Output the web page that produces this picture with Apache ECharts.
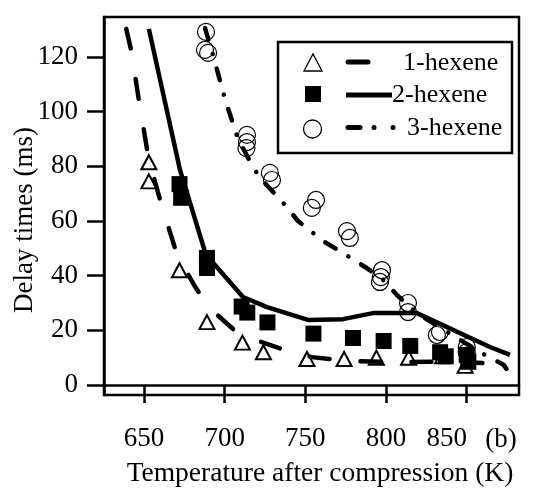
<!DOCTYPE html>
<html>
<head>
<meta charset="utf-8">
<script src="https://cdn.jsdelivr.net/npm/echarts@6/dist/echarts.min.js"></script>
<style>
html,body{margin:0;padding:0;background:#fff;}
#chart{width:535px;height:492px;}
</style>
</head>
<body>
<div id="chart"></div>
<script>
// ---- data ----
const xTicks = [650, 700, 750, 800, 850];
const yTicks = [0, 20, 40, 60, 80, 100, 120];

// 1-hexene measurements (open triangles)
const hex1Temp  = [653, 653, 672, 689, 711, 724, 751, 774, 794, 814, 835, 849];
const hex1Delay = [81.5, 74.5, 42, 23, 15.5, 12, 9.5, 9.5, 10, 10, 10.5, 7];
// 1-hexene model (dashed line)
const hex1LineT = [639, 642, 647, 653, 660.5, 670.5, 681, 690, 708, 723, 740.5, 754, 777.5, 804, 840, 873];
const hex1LineD = [130.3, 122.6, 103.5, 82.3, 66.6, 47.6, 36.6, 28.5, 19, 15.7, 12.1, 10.2, 8.8, 8.4, 8.5, 7.8];

// 2-hexene measurements (filled squares)
const hex2Temp  = [672, 673, 689, 689, 710.5, 714, 726.5, 755, 779.5, 798.5, 815, 833.5, 837, 850, 851];
const hex2Delay = [73.5, 68.5, 46.5, 42.8, 28.7, 26.5, 22.9, 18.8, 17.2, 16.1, 14.3, 12, 10.5, 11, 8.5];
// 2-hexene model (solid line)
const hex2LineT = [653, 672.3, 687.8, 694, 711.3, 726.2, 751.6, 773.3, 791.9, 819.1, 864.4, 876.8];
const hex2LineD = [130.3, 78.7, 48.7, 43.9, 32.2, 28.5, 23.8, 24.1, 26.3, 26.3, 13.9, 11];

// 3-hexene measurements (open circles)
const hex3Temp  = [688.4, 687.8, 689.7, 713.8, 713.8, 713.5, 728, 729.3, 756.6, 754, 775.8, 777.6, 797.5, 796.8, 796.2, 813.6, 813.6, 833.4, 831.5, 850, 850];
const hex3Delay = [129.2, 122.6, 121.5, 91.5, 88.9, 86.7, 77.6, 75, 67.7, 64.8, 56.3, 53.8, 42, 39.5, 37.7, 30, 26.7, 19.4, 18.3, 13.9, 12];
// 3-hexene model (dash-dot line)
const hex3LineT = [687.8, 692.8, 700, 708, 717.5, 722.5, 737.4, 745.4, 762, 771.4, 788, 797.3, 806.8, 819, 858, 873, 875];
const hex3LineD = [130.6, 120.7, 105, 90.4, 79.8, 75.4, 65.9, 60, 52.3, 49, 42.8, 39, 32.9, 26.3, 12.1, 7.3, 5.5];

const seriesNames = ['1-hexene', '2-hexene', '3-hexene'];

// ---- build ----
const zip = (a, b) => a.map((v, i) => [v, b[i]]);
const FONT = 'Liberation Serif';
const chart = echarts.init(document.getElementById('chart'), null, {renderer: 'canvas'});

const L = 278, T = 42, W = 234, H = 111;
const option = {
  animation: false,
  backgroundColor: '#fff',
  grid: {left: 104, top: 17, width: 415, height: 378, containLabel: false, outerBoundsMode: 'none',
         show: true, borderColor: '#000', borderWidth: 2.5, backgroundColor: 'transparent'},
  xAxis: {
    type: 'value', min: 625.2, max: 882.4,
    name: 'Temperature after compression (K)', nameLocation: 'middle', nameGap: 65,
    nameTextStyle: {fontFamily: FONT, fontSize: 27.5, color: '#000', padding: [0, 0, 0, 17]},
    axisLine: {show: true, lineStyle: {color: '#000', width: 2.5}},
    axisTick: {show: true, inside: false, length: 18, lineStyle: {color: '#000', width: 2.5}, customValues: xTicks},
    axisLabel: {fontFamily: FONT, fontSize: 27, color: '#000', margin: 30, customValues: xTicks,
      formatter: v => v === xTicks[xTicks.length - 1] ? '{last|' + v + '}' : String(v),
      rich: {last: {fontFamily: FONT, fontSize: 27, color: '#000', padding: [0, 40, 0, 0]}}},
    splitLine: {show: false}
  },
  yAxis: {
    type: 'value', min: -3.66, max: 134.65,
    axisLine: {show: true, lineStyle: {color: '#000', width: 2.5}},
    axisTick: {show: true, inside: false, length: 17, lineStyle: {color: '#000', width: 2.5}, customValues: yTicks},
    axisLabel: {fontFamily: FONT, fontSize: 27, color: '#000', margin: 26, customValues: yTicks},
    splitLine: {show: false}
  },
  series: [
    {name: seriesNames[0] + ' model', type: 'line', data: zip(hex1LineT, hex1LineD), symbol: 'none', z: 2,
     lineStyle: {color: '#000', width: 4.5, type: [20, 31], cap: 'round'}},
    {name: seriesNames[1] + ' model', type: 'line', data: zip(hex2LineT, hex2LineD), symbol: 'none', z: 2,
     lineStyle: {color: '#000', width: 4.5, type: 'solid', join: 'round'}},
    {name: seriesNames[2] + ' model', type: 'line', data: zip(hex3LineT, hex3LineD), symbol: 'none', z: 2,
     lineStyle: {color: '#000', width: 4.5, type: [12, 15, 0.1, 15], cap: 'round'}},
    {name: seriesNames[0], type: 'scatter', data: zip(hex1Temp, hex1Delay), symbol: 'triangle', symbolSize: [15, 14], z: 3,
     itemStyle: {color: 'transparent', borderColor: '#000', borderWidth: 2, opacity: 1}},
    {name: seriesNames[1], type: 'scatter', data: zip(hex2Temp, hex2Delay), symbol: 'rect', symbolSize: 16, z: 3,
     itemStyle: {color: '#000', borderWidth: 0, opacity: 1}},
    {name: seriesNames[2], type: 'scatter', data: zip(hex3Temp, hex3Delay), symbol: 'circle', symbolSize: 17, z: 3,
     itemStyle: {color: 'transparent', borderColor: '#000', borderWidth: 1.2, opacity: 1}}
  ],
  graphic: [
    {type: 'text', x: 25, y: 220, rotation: Math.PI / 2,
     style: {text: 'Delay times (ms)', font: '27px "Liberation Serif"', fill: '#000', textAlign: 'center', textVerticalAlign: 'middle'}, z: 11},
    {type: 'rect', shape: {x: L, y: T, width: W, height: H}, style: {fill: '#fff', stroke: '#000', lineWidth: 2.5}, z: 10},
    {type: 'polygon', shape: {points: [[304, 71], [322, 71], [313, 54]]}, style: {fill: '#fff', stroke: '#000', lineWidth: 1.3}, z: 11},
    {type: 'rect', shape: {x: 305, y: 86, width: 16, height: 16}, style: {fill: '#000'}, z: 11},
    {type: 'circle', shape: {cx: 312.5, cy: 129, r: 9}, style: {fill: '#fff', stroke: '#000', lineWidth: 1.3}, z: 11},
    {type: 'line', shape: {x1: 348, y1: 62, x2: 368, y2: 62}, style: {stroke: '#000', lineWidth: 5, lineCap: 'round'}, z: 11},
    {type: 'line', shape: {x1: 346, y1: 95, x2: 392, y2: 95}, style: {stroke: '#000', lineWidth: 5}, z: 11},
    {type: 'line', shape: {x1: 348, y1: 127.5, x2: 360, y2: 127.5}, style: {stroke: '#000', lineWidth: 5, lineCap: 'round'}, z: 11},
    {type: 'circle', shape: {cx: 374, cy: 127.5, r: 2.5}, style: {fill: '#000'}, z: 11},
    {type: 'circle', shape: {cx: 393, cy: 127.5, r: 2.5}, style: {fill: '#000'}, z: 11},
    {type: 'text', x: 403, y: 63, style: {text: seriesNames[0], font: '26px "Liberation Serif"', fill: '#000', textVerticalAlign: 'middle'}, z: 11},
    {type: 'text', x: 392, y: 95, style: {text: seriesNames[1], font: '26px "Liberation Serif"', fill: '#000', textVerticalAlign: 'middle'}, z: 11},
    {type: 'text', x: 407, y: 128, style: {text: seriesNames[2], font: '26px "Liberation Serif"', fill: '#000', textVerticalAlign: 'middle'}, z: 11},
    {type: 'text', x: 501, y: 440, style: {text: '(b)', font: '27px "Liberation Serif"', fill: '#000', textAlign: 'center', textVerticalAlign: 'middle'}, z: 11}
  ]
};
chart.setOption(option);
</script>
</body>
</html>
